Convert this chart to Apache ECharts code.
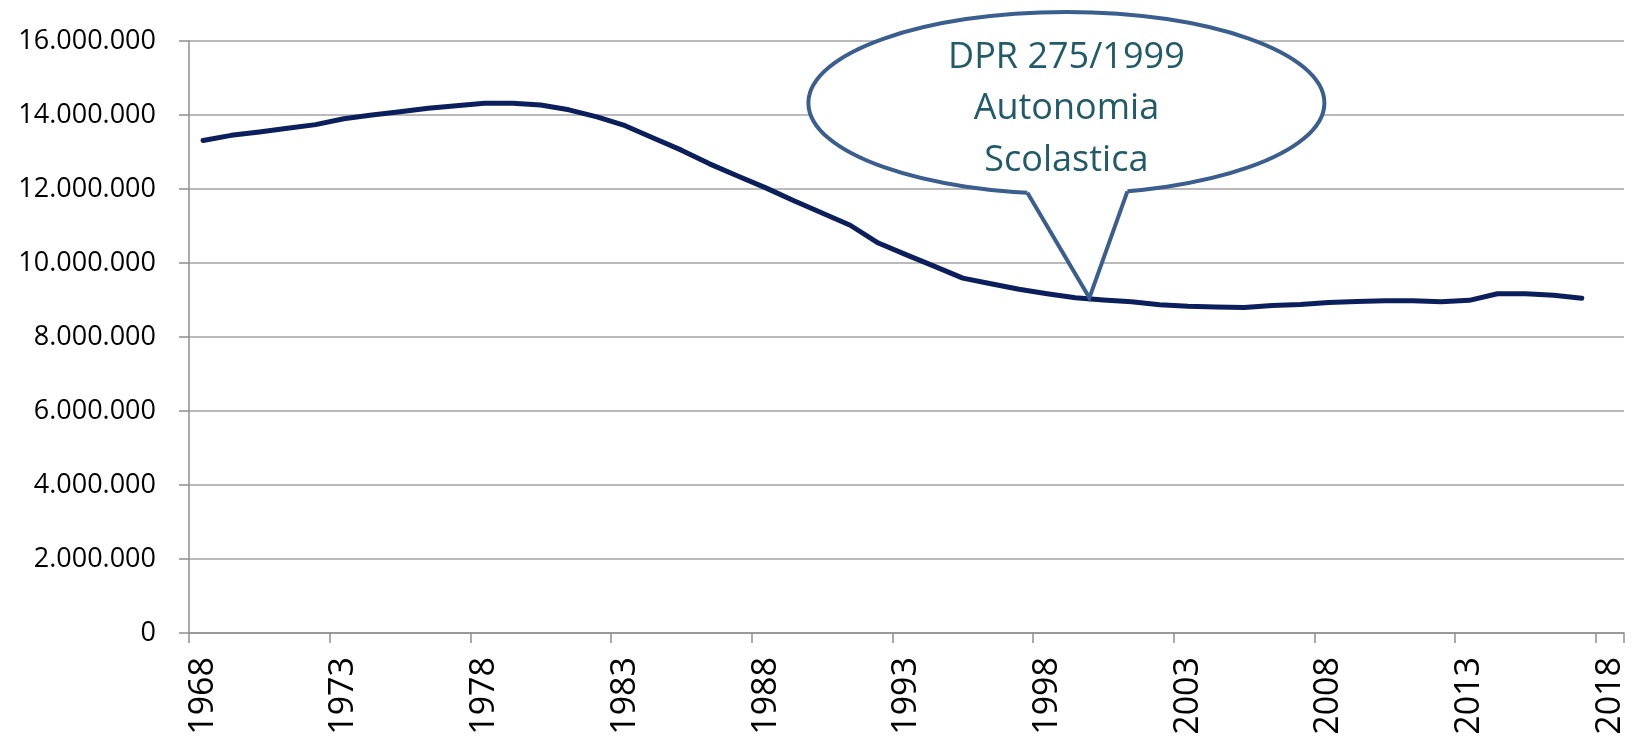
<html lang="it">
<head>
    <meta charset="UTF-8">
    <title>Studenti 1968-2017</title>
    <script src="https://cdn.jsdelivr.net/npm/echarts@6/dist/echarts.min.js"></script>
</head>
<body style="margin:0;background:#fff;">
<div id="container" style="width:1632px;height:736px;"></div>
<script>
    // categorie (anni) e valori della serie
    var years = ['1968', '1969', '1970', '1971', '1972', '1973', '1974', '1975', '1976', '1977',
        '1978', '1979', '1980', '1981', '1982', '1983', '1984', '1985', '1986', '1987',
        '1988', '1989', '1990', '1991', '1992', '1993', '1994', '1995', '1996', '1997',
        '1998', '1999', '2000', '2001', '2002', '2003', '2004', '2005', '2006', '2007',
        '2008', '2009', '2010', '2011', '2012', '2013', '2014', '2015', '2016', '2017', '2018'];
    var studenti = [13310000, 13450000, 13540000, 13640000, 13740000, 13900000, 14000000, 14090000, 14180000, 14250000,
        14320000, 14320000, 14270000, 14140000, 13950000, 13710000, 13380000, 13050000, 12680000, 12350000,
        12030000, 11680000, 11350000, 11020000, 10540000, 10220000, 9910000, 9590000, 9440000, 9290000,
        9170000, 9060000, 9000000, 8950000, 8870000, 8830000, 8810000, 8800000, 8850000, 8880000,
        8930000, 8960000, 8980000, 8980000, 8950000, 8990000, 9170000, 9170000, 9130000, 9050000];
    var calloutLines = ['DPR 275/1999', 'Autonomia', 'Scolastica'];
    // il fumetto punta a metà tra questi due anni
    var calloutYears = ['1999', '2000'];

    function formatNum(v) {
        return String(v).replace(/\B(?=(\d{3})+(?!\d))/g, '.');
    }

    var chart = echarts.init(document.getElementById('container'));
    var option = {
        backgroundColor: '#ffffff',
        animation: false,
        grid: {
            left: 189,
            right: 8,
            top: 41,
            bottom: 103,
            containLabel: false,
            outerBoundsMode: 'none'
        },
        xAxis: {
            type: 'category',
            data: years,
            boundaryGap: true,
            axisLine: {lineStyle: {color: '#8e8e8e', width: 1.5}},
            axisTick: {show: true, interval: 4, length: 10, lineStyle: {color: '#8e8e8e', width: 1.5}},
            axisLabel: {
                interval: 4,
                rotate: 90,
                margin: 24,
                color: '#000',
                fontFamily: 'Open Sans',
                fontSize: 34
            },
            splitLine: {show: false}
        },
        yAxis: {
            type: 'value',
            min: 0,
            max: 16000000,
            interval: 2000000,
            axisLine: {show: true, lineStyle: {color: '#8e8e8e', width: 1.5}},
            axisTick: {show: true, length: 10, lineStyle: {color: '#8e8e8e', width: 1.5}},
            axisLabel: {
                margin: 33,
                color: '#000',
                fontFamily: 'Open Sans',
                fontSize: 27,
                formatter: formatNum
            },
            splitLine: {lineStyle: {color: '#a3a3a3', width: 1.5}}
        },
        series: [{
            type: 'line',
            data: studenti,
            symbol: 'none',
            smooth: false,
            lineStyle: {color: '#0b1f5c', width: 5, cap: 'round', join: 'round'}
        }]
    };
    chart.setOption(option);

    // fumetto: la punta si appoggia sulla linea
    var p1 = chart.convertToPixel({gridIndex: 0}, [calloutYears[0], studenti[years.indexOf(calloutYears[0])]]);
    var p2 = chart.convertToPixel({gridIndex: 0}, [calloutYears[1], studenti[years.indexOf(calloutYears[1])]]);
    var tip = [(p1[0] + p2[0]) / 2, (p1[1] + p2[1]) / 2 - 1];
    var cx = tip[0] - 23, cy = tip[1] - 195, rx = 258, ry = 91;
    function onEllipse(dx) {
        return [cx + dx, cy + ry * Math.sqrt(1 - (dx / rx) * (dx / rx))];
    }
    var lb = onEllipse(-39), rb = onEllipse(61);
    var stroke = '#3a5e8e';

    chart.setOption({
        graphic: [{
            type: 'ellipse',
            z: 100,
            shape: {cx: cx, cy: cy, rx: rx, ry: ry},
            style: {fill: '#ffffff', stroke: stroke, lineWidth: 4}
        }, {
            type: 'polygon',
            z: 101,
            shape: {points: [[lb[0], lb[1] - 7], lb, tip, rb, [rb[0], rb[1] - 7]]},
            style: {fill: '#ffffff'}
        }, {
            type: 'polyline',
            z: 102,
            shape: {points: [lb, tip, rb]},
            style: {stroke: stroke, lineWidth: 4, fill: null, lineJoin: 'miter'}
        }, {
            type: 'text',
            z: 103,
            x: cx,
            y: cy + 6,
            style: {
                text: calloutLines.join('\n'),
                fill: '#215a68',
                font: '36px "Open Sans"',
                lineHeight: 51.5,
                align: 'center',
                verticalAlign: 'middle'
            }
        }]
    });
</script>
</body>
</html>
